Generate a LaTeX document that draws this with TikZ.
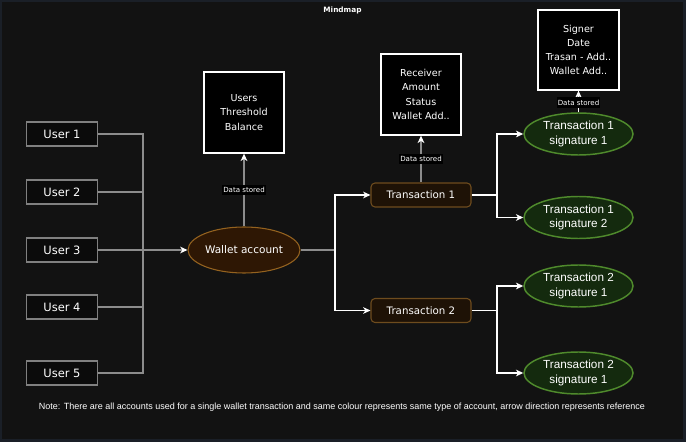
\documentclass[tikz,border=0pt]{standalone}
\usepackage{fontspec}
\setmainfont{DejaVu Sans}
\newfontfamily\helv{Liberation Sans}
\usetikzlibrary{arrows.meta,shapes.geometric}
\definecolor{bg}{HTML}{121212}
\definecolor{frameC}{HTML}{1A1F27}
\definecolor{lineG}{HTML}{8C8C8C}
\definecolor{userF}{HTML}{0B0B0B}
\definecolor{userD}{HTML}{808080}
\definecolor{walF}{HTML}{2E1704}
\definecolor{walD}{HTML}{94621F}
\definecolor{trF}{HTML}{1E1206}
\definecolor{trD}{HTML}{6E4C1E}
\definecolor{sigF}{HTML}{142A0E}
\definecolor{sigD}{HTML}{4F8A2C}
\tikzset{
  userbox/.style={draw=userD, line width=1.1pt, fill=userF, minimum width=53.25pt, minimum height=18pt, inner sep=0pt, text=white, font=\fontsize{8.6}{10}\selectfont},
  databox/.style={draw=white, line width=1pt, fill=black, minimum width=60pt, minimum height=60.75pt, inner sep=0pt, text=white, align=center, font=\fontsize{7.2}{10.7}\selectfont},
  walletnode/.style={ellipse, draw=walD, line width=0.8pt, fill=walF, minimum width=84pt, minimum height=34.5pt, inner sep=0pt},
  trbox/.style={draw=trD, line width=0.8pt, fill=trF, rounded corners=3pt, minimum width=75pt, minimum height=18pt, inner sep=0pt, text=white, font=\fontsize{7.7}{9}\selectfont},
  signode/.style={ellipse, draw=sigD, line width=1.1pt, fill=sigF, minimum width=81.75pt, minimum height=31.5pt, inner sep=0pt},
  sigtext/.style={text=white, align=center, inner sep=0pt, font=\helv\fontsize{8.8}{11}\selectfont},
  gline/.style={draw=lineG, line width=1.1pt},
  wline/.style={draw=white, line width=1pt},
  arr/.style={-{Stealth[length=5.5pt,width=5pt,inset=1.6pt,color=white]}},
  datalbl/.style={fill=black, text=white, inner xsep=0.6pt, inner ysep=2pt, font=\fontsize{5.3}{6}\selectfont},
}
\begin{document}
\begin{tikzpicture}[x=0.75pt,y=-0.75pt]
\fill[frameC] (0,0) rectangle (686,442);
\fill[bg] (2,2) rectangle (683,439);
\node[text=white, font=\bfseries\fontsize{5.5}{6}\selectfont] (title) at (342.5,10) {Mindmap};
% users
\node[userbox] (u1) at (62,134) {User 1};
\node[userbox] (u2) at (62,192) {User 2};
\node[userbox] (u3) at (62,250) {User 3};
\node[userbox] (u4) at (62,307) {User 4};
\node[userbox] (u5) at (62,373) {User 5};
\coordinate (b1) at (143,134);
% wallet
\node[walletnode] (wallet) at (244,250) {};
\node[text=white, inner sep=0pt, font=\fontsize{7.9}{9}\selectfont] (walletT) at (wallet) {Wallet account};
\node[databox] (d1) at (244,112.5) {Users\\Threshold\\Balance};
% transactions
\node[trbox] (t1) at (421,195) {Transaction 1};
\node[trbox] (t2) at (421,310.5) {Transaction 2};
\node[databox] (d2) at (421,94.5) {Receiver\\Amount\\Status\\Wallet Add..};
% signatures
\node[signode] (s11) at (578.5,134) {};
\node[sigtext] (s11t) at (s11) {Transaction 1\\signature 1};
\node[signode] (s12) at (578.5,217.5) {};
\node[sigtext] (s12t) at (s12) {Transaction 1\\signature 2};
\node[signode] (s21) at (578.5,286) {};
\node[sigtext] (s21t) at (s21) {Transaction 2\\signature 1};
\node[signode] (s22) at (578.5,373) {};
\node[sigtext] (s22t) at (s22) {Transaction 2\\signature 1};
\node[databox, minimum width=60.75pt, minimum height=60pt] (d3) at (578.5,50) {Signer\\Date\\Trasan - Add..\\Wallet Add..};
% connectors users
\draw[gline] (u1.east) -- (b1) |- (u5.east);
\draw[gline] (u2.east) -- (u2.east -| b1);
\draw[gline] (u4.east) -- (u4.east -| b1);
\draw[gline, arr] (u3.east) -- (wallet.west);
% wallet up
\draw[gline, arr] (wallet.north) -- (d1.south) node[midway, datalbl] (l1) {Data stored};
% wallet to transactions
\coordinate (j1) at (335,250);
\draw[gline] (wallet.east) -- (j1);
\draw[wline, arr] (j1) |- (t1.west);
\draw[wline, arr] (j1) |- (t2.west);
\draw[gline, arr] (t1.north) -- (d2.south) node[midway, datalbl] (l2) {Data stored};
% transactions to signatures
\coordinate (j2) at (497,195);
\coordinate (j3) at (497,310.5);
\draw[wline] (t1.east) -- (j2);
\draw[wline, arr] (j2) |- (s11.west);
\draw[wline, arr] (j2) |- (s12.west);
\draw[wline] (t2.east) -- (j3);
\draw[wline, arr] (j3) |- (s21.west);
\draw[wline, arr] (j3) |- (s22.west);
\draw[wline, arr] (s11.north) -- (d3.south) node[pos=0.45, datalbl] (l3) {Data stored};
% note
\node[text=white, inner sep=0pt, font=\helv\fontsize{6.75}{8}\selectfont] (note) at (342,407) {Note: There are all accounts used for a single wallet transaction and same colour represents same type of account, arrow direction represents reference};
\end{tikzpicture}
\end{document}
